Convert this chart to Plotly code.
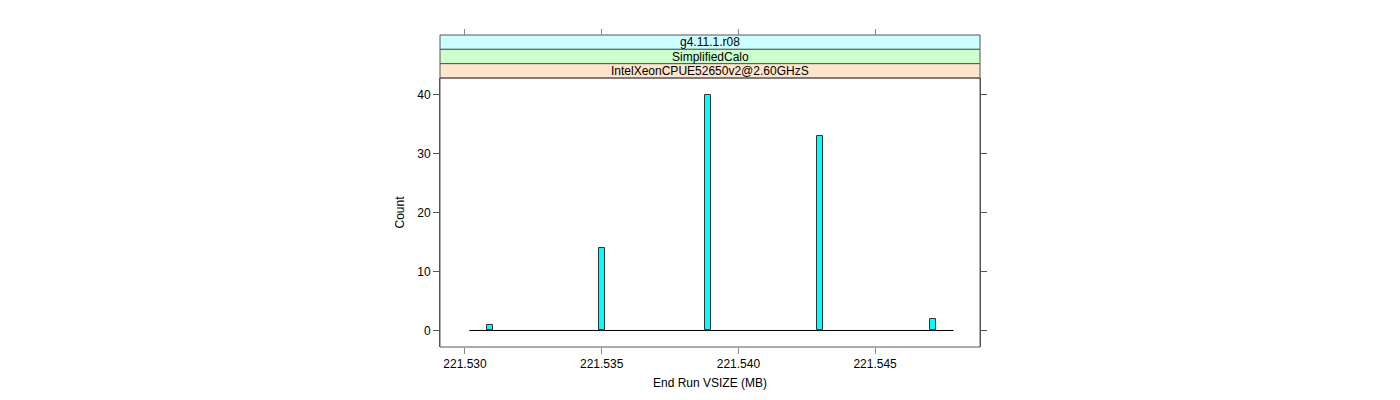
import plotly.graph_objects as go

# data
bin_centers = [221.5309, 221.5350, 221.5389, 221.5430, 221.5471]
counts = [1, 14, 40, 33, 2]
bin_width = 0.00022
baseline_x = [221.53016, 221.54787]
baseline_y = [0, 0]
x_ticks = [221.530, 221.535, 221.540, 221.545]
x_tick_labels = ["221.530", "221.535", "221.540", "221.545"]
y_ticks = [0, 10, 20, 30, 40]
strip_labels = ["g4.11.1.r08", "SimplifiedCalo", "IntelXeonCPUE52650v2@2.60GHzS"]
strip_colors = ["#CCFFFF", "#CCFFCC", "#FFE5CC"]

x_range = [221.529086, 221.548837]
y_range = [-2.8, 42.8]

W, H = 1400, 400
left, right = 440, 980
top_strip, panel_top, panel_bottom = 35, 78, 347
ml, mr, mt, mb = left, W - right, top_strip, H - panel_bottom
plot_h = panel_bottom - top_strip
ydom_top = (panel_bottom - panel_top) / plot_h
strip_h = (panel_top - top_strip) / plot_h / 3

font = dict(family="Liberation Sans, Arial, sans-serif", size=12, color="black")

fig = go.Figure()
fig.add_trace(go.Scatter(x=baseline_x, y=baseline_y, mode="lines",
                         line=dict(color="black", width=1), showlegend=False,
                         hoverinfo="skip"))
fig.add_trace(go.Bar(x=bin_centers, y=counts, width=bin_width,
                     marker=dict(color="#00FFFF", line=dict(color="#333333", width=1)),
                     showlegend=False))

shapes = []
# panel box
shapes.append(dict(type="rect", xref="paper", yref="paper", x0=0, x1=1, y0=0, y1=ydom_top,
                   line=dict(color="#555555", width=1), fillcolor="rgba(0,0,0,0)", layer="above"))
annotations = []
for i, (lab, col) in enumerate(zip(strip_labels, strip_colors)):
    # i=0 top strip
    y1 = 1 - i * strip_h
    y0 = y1 - strip_h
    shapes.append(dict(type="rect", xref="paper", yref="paper", x0=0, x1=1, y0=y0, y1=y1,
                       line=dict(color="#555555", width=1), fillcolor=col, layer="below"))
    annotations.append(dict(text=lab, xref="paper", yref="paper", x=0.5, y=(y0 + y1) / 2,
                            showarrow=False, font=font, xanchor="center", yanchor="middle"))

fig.update_layout(
    width=W, height=H,
    margin=dict(l=ml, r=mr, t=mt, b=mb, pad=0),
    plot_bgcolor="white", paper_bgcolor="white",
    font=font,
    bargap=0,
    shapes=shapes,
    annotations=annotations,
    xaxis=dict(range=x_range, tickvals=x_ticks, ticktext=x_tick_labels,
               ticks="outside", ticklen=6, tickcolor="#888888", tickwidth=1,
               showgrid=False, zeroline=False, showline=False,
               title=dict(text="End Run VSIZE (MB)", font=font, standoff=8),
               tickfont=font),
    xaxis2=dict(range=x_range, tickvals=x_ticks, ticktext=["", "", "", ""],
                overlaying="x", side="top", anchor="free", position=1,
                ticks="outside", ticklen=6, tickcolor="#888888", tickwidth=1,
                showgrid=False, zeroline=False, showline=False, showticklabels=False),
    yaxis=dict(range=y_range, domain=[0, ydom_top], tickvals=y_ticks,
               ticks="outside", ticklen=6, tickcolor="#555555", tickwidth=1,
               showgrid=False, zeroline=False, showline=True, linecolor="#555555",
               mirror="ticks",
               title=dict(text="Count", font=font, standoff=10),
               tickfont=font),
)
# dummy trace for xaxis2 to show
fig.add_trace(go.Scatter(x=[x_range[0]], y=[None], xaxis="x2", yaxis="y",
                         showlegend=False, hoverinfo="skip"))

fig.write_html("out.html")
